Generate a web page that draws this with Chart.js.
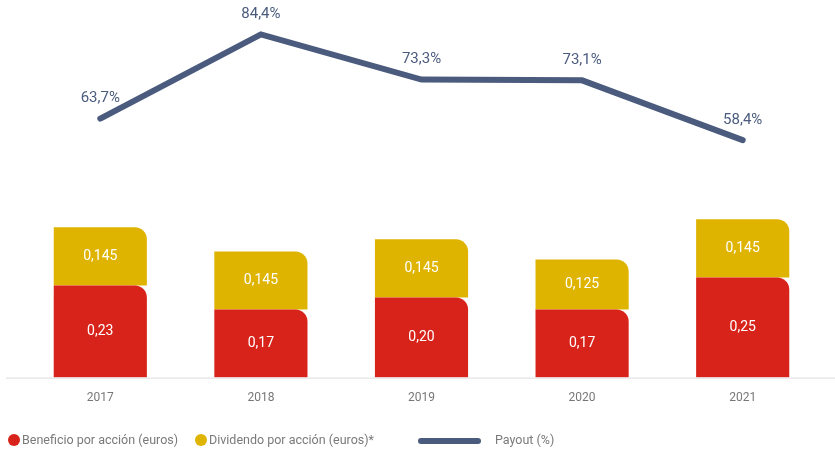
<!DOCTYPE html>
<html>
<head>
<meta charset="utf-8">
<script src="https://cdn.jsdelivr.net/npm/chart.js@4"></script>
<style>
  body { margin: 0; background: #fff; font-family: Roboto, sans-serif; }
  #wrap { position: relative; width: 835px; height: 452px; }
  canvas { display: block; }
  #legend { position: absolute; left: 0; top: 430px; width: 835px; height: 20px; font-size: 12.5px; color: #7a7a7a; }
  #legend span { position: absolute; top: 2px; white-space: nowrap; }
  .dot { position: absolute; top: 4px; width: 12px; height: 12px; border-radius: 50%; }
  .bar { position: absolute; top: 8px; width: 63px; height: 6px; border-radius: 3px; background: #4b5b7e; }
</style>
</head>
<body>
<div id="wrap">
  <canvas id="chart" width="835" height="452"></canvas>
  <div id="legend">
    <div class="dot" style="left:8px; background:#d8231a"></div>
    <span style="left:22px">Beneficio por acción (euros)</span>
    <div class="dot" style="left:195px; background:#dfb400"></div>
    <span style="left:209px">Dividendo por acción (euros)*</span>
    <div class="bar" style="left:418px"></div>
    <span style="left:495px">Payout (%)</span>
  </div>
</div>
<script>
const anios = ["2017", "2018", "2019", "2020", "2021"];
const beneficio = [0.23, 0.17, 0.20, 0.17, 0.25];
const dividendo = [0.145, 0.145, 0.145, 0.125, 0.145];
const payout = [63.7, 84.4, 73.3, 73.1, 58.4];

const rojo = '#d8231a';
const amarillo = '#dfb400';
const azul = '#4b5b7e';

const fmt = (v, d) => v.toLocaleString('es-ES', { minimumFractionDigits: d });

// etiquetas de valores y linea base
const etiquetas = {
  id: 'etiquetas',
  afterDatasetsDraw(chart) {
    const ctx = chart.ctx;
    ctx.save();
    ctx.textAlign = 'center';
    ctx.textBaseline = 'middle';
    [0, 1].forEach(i => {
      chart.getDatasetMeta(i).data.forEach((el, j) => {
        ctx.fillStyle = '#fff';
        ctx.font = '14px Roboto';
        ctx.fillText(fmt(chart.data.datasets[i].data[j], 2), el.x, (el.y + el.base) / 2);
      });
    });
    chart.getDatasetMeta(2).data.forEach((el, j) => {
      ctx.fillStyle = azul;
      ctx.font = '15px Roboto';
      ctx.fillText(fmt(payout[j], 1) + '%', el.x, el.y - 20);
    });
    const yb = chart.scales.x.top;
    ctx.strokeStyle = '#dddddd';
    ctx.lineWidth = 1;
    ctx.beginPath();
    ctx.moveTo(6, yb + 0.5);
    ctx.lineTo(chart.width, yb + 0.5);
    ctx.stroke();
    ctx.restore();
  }
};

const radio = { topLeft: 0, topRight: 12, bottomLeft: 0, bottomRight: 0 };

new Chart(document.getElementById('chart').getContext('2d'), {
  type: 'bar',
  data: {
    labels: anios,
    datasets: [
      { label: 'Beneficio por acción (euros)', data: beneficio, backgroundColor: rojo, borderRadius: radio, borderSkipped: false, stack: 's', yAxisID: 'y', order: 2 },
      { label: 'Dividendo por acción (euros)*', data: dividendo, backgroundColor: amarillo, borderRadius: radio, borderSkipped: false, stack: 's', yAxisID: 'y', order: 2 },
      { type: 'line', label: 'Payout (%)', data: payout, borderColor: azul, borderWidth: 6, borderCapStyle: 'round', borderJoinStyle: 'miter', pointRadius: 0, fill: false, tension: 0, yAxisID: 'y2', order: 1 }
    ]
  },
  options: {
    responsive: false,
    animation: false,
    layout: { padding: { left: 20, right: 12, top: 10, bottom: 34 } },
    datasets: { bar: { categoryPercentage: 1, barPercentage: 0.58 } },
    plugins: { legend: { display: false }, tooltip: { enabled: false } },
    scales: {
      x: {
        stacked: true,
        grid: { display: false, drawTicks: false },
        border: { display: false },
        ticks: { color: '#777', font: { family: 'Roboto', size: 12 }, padding: 13 }
      },
      y: { stacked: true, display: false, min: 0, max: 0.9175 },
      y2: { display: false, min: 0, max: 90.4 }
    }
  },
  plugins: [etiquetas]
});
</script>
</body>
</html>
